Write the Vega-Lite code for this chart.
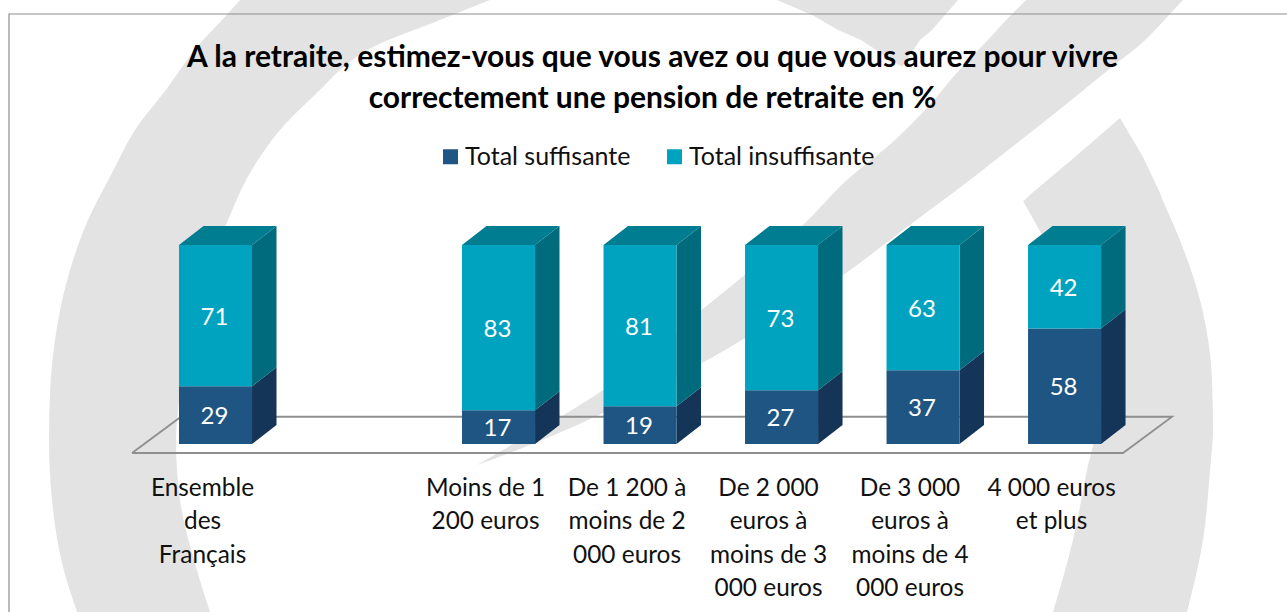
{
"$schema":"https://vega.github.io/schema/vega-lite/v6.json",
"width":1287,"height":612,"padding":0,"autosize":{"type":"none"},"background":"#ffffff",
"title":{"text":["A la retraite, estimez-vous que vous avez ou que vous aurez pour vivre","correctement une pension de retraite  en %"],"font":"Lato","fontSize":30,"fontWeight":"bold","color":"#000000","lineHeight":41,"anchor":"middle","offset":-114,"dx":9},
"config":{"view":{"stroke":null}},
"datasets":{
"mark":[
{"shape":"left","py":0,"a":240,"b":490},{"shape":"left","py":20,"a":222,"b":440},{"shape":"left","py":47,"a":197,"b":373},{"shape":"left","py":70,"a":180,"b":340},{"shape":"left","py":87,"a":168,"b":323},{"shape":"left","py":130,"a":135,"b":280},{"shape":"left","py":173,"a":112,"b":250},{"shape":"left","py":220,"a":88,"b":228},{"shape":"left","py":270,"a":70,"b":207},{"shape":"left","py":327,"a":57,"b":190},{"shape":"left","py":393,"a":50,"b":180},{"shape":"left","py":440,"a":49,"b":176},{"shape":"left","py":500,"a":52,"b":180},{"shape":"left","py":567,"a":63,"b":196},{"shape":"left","py":612,"a":77,"b":210},
{"shape":"band","py":0,"a":1026,"b":1183},{"shape":"band","py":15,"a":1011,"b":1169},{"shape":"band","py":43,"a":985,"b":1142},{"shape":"band","py":67,"a":962,"b":1112},{"shape":"band","py":110,"a":925,"b":1059},{"shape":"band","py":140,"a":895,"b":1021},{"shape":"band","py":180,"a":847,"b":970},{"shape":"band","py":227,"a":801,"b":907},{"shape":"band","py":273,"a":747,"b":846},{"shape":"band","py":337,"a":668,"b":747},{"shape":"band","py":363,"a":636,"b":702},{"shape":"band","py":390,"a":603,"b":648},{"shape":"band","py":413,"a":567,"b":603},{"shape":"band","py":443,"a":515,"b":535},{"shape":"band","py":465,"a":477,"b":477},
{"shape":"right","py":201,"a":1023,"b":1163},{"shape":"right","py":233,"a":1041,"b":1177},{"shape":"right","py":300,"a":1075,"b":1200},{"shape":"right","py":380,"a":1095,"b":1212},{"shape":"right","py":430,"a":1095,"b":1213},{"shape":"right","py":470,"a":1087,"b":1210},{"shape":"right","py":540,"a":1073,"b":1203},{"shape":"right","py":612,"a":1053,"b":1187}
],
"cuts":[
{"shape":"wedge","py":0,"a":777,"b":958},{"shape":"wedge","py":15,"a":812,"b":945},{"shape":"wedge","py":30,"a":838,"b":932},{"shape":"wedge","py":40,"a":861,"b":920},{"shape":"wedge","py":67,"a":902,"b":902},
{"shape":"tip","py":118,"a":1120,"b":1120},{"shape":"tip","py":157,"a":1075,"b":1143},{"shape":"tip","py":193,"a":1032,"b":1160},{"shape":"tip","py":201.5,"a":1023,"b":1163}
],
"frame":[{"step":1,"fx":9,"fy":612},{"step":2,"fx":9,"fy":14},{"step":3,"fx":1287,"fy":14}],
"floor":[{"step":1,"x":-0.590,"y":-4.52},{"step":2,"x":-0.244,"y":13.7},{"step":3,"x":6.76,"y":13.7},{"step":4,"x":6.413,"y":-4.52},{"step":5,"x":-0.590,"y":-4.52}],
"bars":[
{"category":"Ensemble des Français","series":"Total suffisante","left":-0.258,"right":0.258,"start":0,"end":29,"value":29},
{"category":"Ensemble des Français","series":"Total insuffisante","left":-0.258,"right":0.258,"start":29,"end":100,"value":71},
{"category":"Moins de 1 200 euros","series":"Total suffisante","left":1.742,"right":2.258,"start":0,"end":17,"value":17},
{"category":"Moins de 1 200 euros","series":"Total insuffisante","left":1.742,"right":2.258,"start":17,"end":100,"value":83},
{"category":"De 1 200 à moins de 2 000 euros","series":"Total suffisante","left":2.742,"right":3.258,"start":0,"end":19,"value":19},
{"category":"De 1 200 à moins de 2 000 euros","series":"Total insuffisante","left":2.742,"right":3.258,"start":19,"end":100,"value":81},
{"category":"De 2 000 euros à moins de 3 000 euros","series":"Total suffisante","left":3.742,"right":4.258,"start":0,"end":27,"value":27},
{"category":"De 2 000 euros à moins de 3 000 euros","series":"Total insuffisante","left":3.742,"right":4.258,"start":27,"end":100,"value":73},
{"category":"De 3 000 euros à moins de 4 000 euros","series":"Total suffisante","left":4.742,"right":5.258,"start":0,"end":37,"value":37},
{"category":"De 3 000 euros à moins de 4 000 euros","series":"Total insuffisante","left":4.742,"right":5.258,"start":37,"end":100,"value":63},
{"category":"4 000 euros et plus","series":"Total suffisante","left":5.742,"right":6.258,"start":0,"end":58,"value":58},
{"category":"4 000 euros et plus","series":"Total insuffisante","left":5.742,"right":6.258,"start":58,"end":100,"value":42}
],
"sides":[
{"g":"0s","s":"suff","x":0.258,"lo":0,"hi":29},{"g":"0s","s":"suff","x":0.431,"lo":9.55,"hi":38.55},
{"g":"0i","s":"ins","x":0.258,"lo":29,"hi":100},{"g":"0i","s":"ins","x":0.431,"lo":38.55,"hi":109.55},
{"g":"2s","s":"suff","x":2.258,"lo":0,"hi":17},{"g":"2s","s":"suff","x":2.431,"lo":9.55,"hi":26.55},
{"g":"2i","s":"ins","x":2.258,"lo":17,"hi":100},{"g":"2i","s":"ins","x":2.431,"lo":26.55,"hi":109.55},
{"g":"3s","s":"suff","x":3.258,"lo":0,"hi":19},{"g":"3s","s":"suff","x":3.431,"lo":9.55,"hi":28.55},
{"g":"3i","s":"ins","x":3.258,"lo":19,"hi":100},{"g":"3i","s":"ins","x":3.431,"lo":28.55,"hi":109.55},
{"g":"4s","s":"suff","x":4.258,"lo":0,"hi":27},{"g":"4s","s":"suff","x":4.431,"lo":9.55,"hi":36.55},
{"g":"4i","s":"ins","x":4.258,"lo":27,"hi":100},{"g":"4i","s":"ins","x":4.431,"lo":36.55,"hi":109.55},
{"g":"5s","s":"suff","x":5.258,"lo":0,"hi":37},{"g":"5s","s":"suff","x":5.431,"lo":9.55,"hi":46.55},
{"g":"5i","s":"ins","x":5.258,"lo":37,"hi":100},{"g":"5i","s":"ins","x":5.431,"lo":46.55,"hi":109.55},
{"g":"6s","s":"suff","x":6.258,"lo":0,"hi":58},{"g":"6s","s":"suff","x":6.431,"lo":9.55,"hi":67.55},
{"g":"6i","s":"ins","x":6.258,"lo":58,"hi":100},{"g":"6i","s":"ins","x":6.431,"lo":67.55,"hi":109.55}
],
"tops":[
{"g":"0","y":100,"a":-0.258,"b":0.258},{"g":"0","y":109.55,"a":-0.085,"b":0.431},
{"g":"2","y":100,"a":1.742,"b":2.258},{"g":"2","y":109.55,"a":1.915,"b":2.431},
{"g":"3","y":100,"a":2.742,"b":3.258},{"g":"3","y":109.55,"a":2.915,"b":3.431},
{"g":"4","y":100,"a":3.742,"b":4.258},{"g":"4","y":109.55,"a":3.915,"b":4.431},
{"g":"5","y":100,"a":4.742,"b":5.258},{"g":"5","y":109.55,"a":4.915,"b":5.431},
{"g":"6","y":100,"a":5.742,"b":6.258},{"g":"6","y":109.55,"a":5.915,"b":6.431}
],
"labels":[
{"x":0,"y":-16.5,"label":"Ensemble\ndes\nFrançais"},
{"x":2,"y":-16.5,"label":"Moins de 1\n200 euros"},
{"x":3,"y":-16.5,"label":"De 1 200 à\nmoins de 2\n000 euros"},
{"x":4,"y":-16.5,"label":"De 2 000\neuros à\nmoins de 3\n000 euros"},
{"x":5,"y":-16.5,"label":"De 3 000\neuros à\nmoins de 4\n000 euros"},
{"x":6,"y":-16.5,"label":"4 000 euros\net plus"}
]
},
"resolve":{"scale":{"x":"independent","y":"independent"}},
"layer":[
{"layer":[
 {"data":{"name":"mark"},"mark":{"type":"area","orient":"horizontal","interpolate":"monotone","fill":"#E3E3E3"},
  "encoding":{"y":{"field":"py","type":"quantitative","scale":{"domain":[612,0],"nice":false,"zero":false},"axis":null},
   "x":{"field":"a","type":"quantitative","scale":{"domain":[0,1287],"nice":false,"zero":false},"axis":null},"x2":{"field":"b"},"detail":{"field":"shape"}}},
 {"data":{"name":"cuts"},"mark":{"type":"area","orient":"horizontal","fill":"#E3E3E3"},
  "encoding":{"y":{"field":"py","type":"quantitative","axis":null},"x":{"field":"a","type":"quantitative","axis":null},"x2":{"field":"b"},"detail":{"field":"shape"}}},
 {"data":{"name":"frame"},"mark":{"type":"line","stroke":"#8E8E8E","strokeWidth":1.2},
  "encoding":{"x":{"field":"fx","type":"quantitative","axis":null},"y":{"field":"fy","type":"quantitative","axis":null},"order":{"field":"step"}}}
]},
{"layer":[
 {"data":{"name":"floor"},"mark":{"type":"line","stroke":"#8F8F8F","strokeWidth":1.8},
  "encoding":{"x":{"field":"x","type":"quantitative","scale":{"domain":[-1.523,7.572],"nice":false,"zero":false},"axis":null},
   "y":{"field":"y","type":"quantitative","scale":{"domain":[-84.42,223.1],"nice":false,"zero":false},"axis":null},"order":{"field":"step"}}},
 {"data":{"name":"sides"},"transform":[{"filter":"datum.s==='suff'"}],"mark":{"type":"area","orient":"vertical","fill":"#143557"},
  "encoding":{"x":{"field":"x","type":"quantitative","axis":null},"y":{"field":"lo","type":"quantitative","axis":null},"y2":{"field":"hi"},"detail":{"field":"g"}}},
 {"data":{"name":"sides"},"transform":[{"filter":"datum.s==='ins'"}],"mark":{"type":"area","orient":"vertical","fill":"#006B7C"},
  "encoding":{"x":{"field":"x","type":"quantitative","axis":null},"y":{"field":"lo","type":"quantitative","axis":null},"y2":{"field":"hi"},"detail":{"field":"g"}}},
 {"data":{"name":"tops"},"mark":{"type":"area","orient":"horizontal","fill":"#007D90"},
  "encoding":{"y":{"field":"y","type":"quantitative","axis":null},"x":{"field":"a","type":"quantitative","axis":null},"x2":{"field":"b"},"detail":{"field":"g"}}},
 {"data":{"name":"bars"},"mark":{"type":"bar"},
  "encoding":{"x":{"field":"left","type":"quantitative","axis":null},"x2":{"field":"right"},"y":{"field":"start","type":"quantitative","axis":null},"y2":{"field":"end"},
   "color":{"field":"series","type":"nominal","scale":{"domain":["Total suffisante","Total insuffisante"],"range":["#1F5582","#00A3BF"]},
    "legend":{"title":null,"orient":"none","legendX":438,"legendY":144,"direction":"horizontal","symbolType":"square","symbolSize":225,"symbolStrokeWidth":0,"labelFont":"Lato","labelFontSize":25,"labelColor":"#111111","labelOffset":2,"columnPadding":31,"labelLimit":400}}}},
 {"data":{"name":"bars"},"transform":[{"calculate":"(datum.start+datum.end)/2","as":"mid"},{"calculate":"(datum.left+datum.right)/2","as":"center"}],"mark":{"type":"text","font":"Lato","fontSize":24,"fill":"#ffffff","align":"center","baseline":"middle","dx":-1,"dy":2},
  "encoding":{"x":{"field":"center","type":"quantitative","axis":null},"y":{"field":"mid","type":"quantitative","axis":null},"text":{"field":"value"}}},
 {"data":{"name":"labels"},"mark":{"type":"text","font":"Lato","fontSize":24.4,"fill":"#111111","align":"center","baseline":"top","lineBreak":"\n","lineHeight":33.5,"dx":-13},
  "encoding":{"x":{"field":"x","type":"quantitative","axis":null},"y":{"field":"y","type":"quantitative","axis":null},"text":{"field":"label"}}}
]}
]
}
